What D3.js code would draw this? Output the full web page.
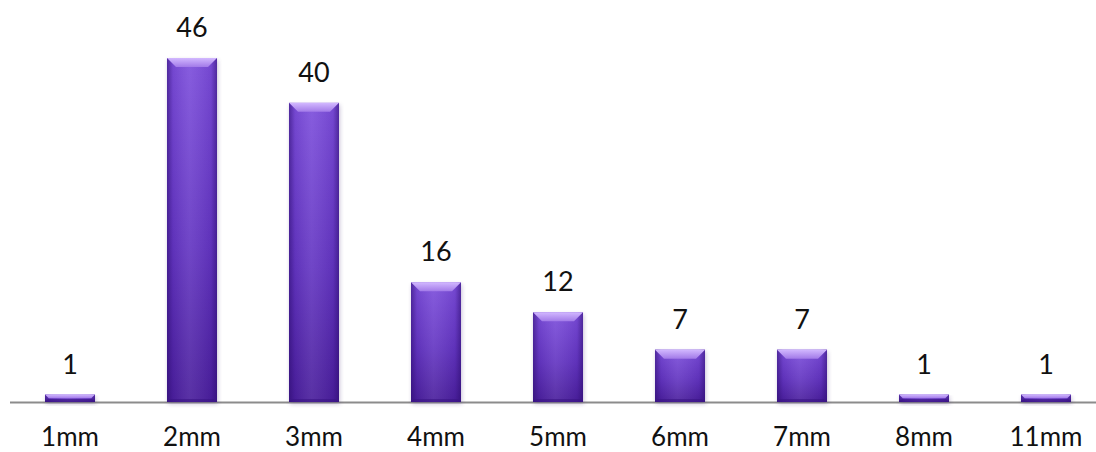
<!DOCTYPE html>
<html>
<head>
<meta charset="utf-8">
<script src="https://cdn.jsdelivr.net/npm/d3@7"></script>
<style>
  html, body { margin: 0; padding: 0; background: #fff; }
  svg { display: block; }
</style>
</head>
<body>
<svg id="chart" width="1096" height="452"></svg>
<script>
const categories = ["1mm", "2mm", "3mm", "4mm", "5mm", "6mm", "7mm", "8mm", "11mm"];
const counts = [1, 46, 40, 16, 12, 7, 7, 1, 1];

const W = 1096, H = 452;
const baseY = 402;
const svg = d3.select("#chart");

const x = d3.scaleBand()
  .domain(categories)
  .range([9, 1107])
  .paddingInner(0.59)
  .paddingOuter(0.295);

const y = d3.scaleLinear()
  .domain([0, 46])
  .range([baseY, 58]);

const defs = svg.append("defs");

// body: darker toward the bottom
const body = defs.append("linearGradient").attr("id", "body")
  .attr("x1", 0).attr("y1", 0).attr("x2", 0).attr("y2", 1);
body.append("stop").attr("offset", "0%").attr("stop-color", "#7d4fdc");
body.append("stop").attr("offset", "55%").attr("stop-color", "#6436c2");
body.append("stop").attr("offset", "100%").attr("stop-color", "#4a1f9c");

// highlight across the width
const sheen = defs.append("linearGradient").attr("id", "sheen")
  .attr("x1", 0).attr("y1", 0).attr("x2", 1).attr("y2", 0);
sheen.append("stop").attr("offset", "0%").attr("stop-color", "#2a0a6a").attr("stop-opacity", 0.55);
sheen.append("stop").attr("offset", "12%").attr("stop-color", "#2a0a6a").attr("stop-opacity", 0.1);
sheen.append("stop").attr("offset", "45%").attr("stop-color", "#ffffff").attr("stop-opacity", 0.08);
sheen.append("stop").attr("offset", "88%").attr("stop-color", "#2a0a6a").attr("stop-opacity", 0.1);
sheen.append("stop").attr("offset", "100%").attr("stop-color", "#2a0a6a").attr("stop-opacity", 0.55);

const topBevel = defs.append("linearGradient").attr("id", "topBevel")
  .attr("x1", 0).attr("y1", 0).attr("x2", 0).attr("y2", 1);
topBevel.append("stop").attr("offset", "0%").attr("stop-color", "#d2b8ff");
topBevel.append("stop").attr("offset", "100%").attr("stop-color", "#a27ae8");

const blur = defs.append("filter").attr("id", "shadow")
  .attr("x", "-20%").attr("y", "-20%").attr("width", "140%").attr("height", "140%");
blur.append("feGaussianBlur").attr("stdDeviation", 2);

// axis line
svg.append("line")
  .attr("x1", 10).attr("x2", W)
  .attr("y1", baseY + 0.5).attr("y2", baseY + 0.5)
  .attr("stroke", "#8c8c8c").attr("stroke-width", 2);

const bw = x.bandwidth();
const g = svg.append("g").selectAll("g").data(categories).join("g");

// soft shadow under each bar
g.append("rect")
  .attr("x", d => x(d) + 1)
  .attr("y", (d, i) => y(counts[i]) + 2)
  .attr("width", bw)
  .attr("height", (d, i) => baseY - y(counts[i]))
  .attr("fill", "#3a1a70").attr("opacity", 0.25)
  .attr("filter", "url(#shadow)");

g.append("rect")
  .attr("x", d => x(d))
  .attr("y", (d, i) => y(counts[i]))
  .attr("width", bw)
  .attr("height", (d, i) => baseY - y(counts[i]))
  .attr("fill", "url(#body)");

g.append("rect")
  .attr("x", d => x(d))
  .attr("y", (d, i) => y(counts[i]))
  .attr("width", bw)
  .attr("height", (d, i) => baseY - y(counts[i]))
  .attr("fill", "url(#sheen)");

// top bevel facet
g.append("path")
  .attr("fill", "url(#topBevel)")
  .attr("d", (d, i) => {
    const x0 = x(d), x1 = x(d) + bw, t = y(counts[i]);
    const b = Math.min(9, (baseY - t) / 2);
    return `M${x0},${t}L${x1},${t}L${x1 - b},${t + b}L${x0 + b},${t + b}Z`;
  });

// bottom edge darkening
g.append("path")
  .attr("fill", "#3a1485").attr("opacity", 0.6)
  .attr("d", (d, i) => {
    const x0 = x(d), x1 = x(d) + bw, t = y(counts[i]);
    const b = Math.min(3, (baseY - t) / 2);
    return `M${x0},${baseY}L${x1},${baseY}L${x1 - b},${baseY - b}L${x0 + b},${baseY - b}Z`;
  });

// value labels
svg.append("g").selectAll("text").data(categories).join("text")
  .attr("x", d => x(d) + bw / 2)
  .attr("y", (d, i) => y(counts[i]) - 21)
  .attr("text-anchor", "middle")
  .attr("font-family", "Lato, 'Open Sans', sans-serif")
  .attr("font-size", 27)
  .attr("fill", "#111")
  .text((d, i) => counts[i]);

// category labels
svg.append("g").selectAll("text").data(categories).join("text")
  .attr("x", d => x(d) + bw / 2)
  .attr("y", 446)
  .attr("text-anchor", "middle")
  .attr("font-family", "Lato, 'Open Sans', sans-serif")
  .attr("font-size", 26)
  .attr("fill", "#111")
  .text(d => d);
</script>
</body>
</html>
